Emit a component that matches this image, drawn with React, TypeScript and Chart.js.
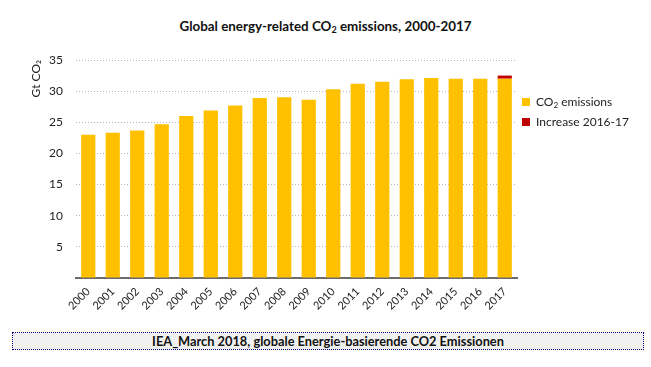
import React, { useEffect, useRef } from "react";
import { Chart, registerables } from "chart.js";

Chart.register(...registerables);

const years = ["2000","2001","2002","2003","2004","2005","2006","2007","2008","2009","2010","2011","2012","2013","2014","2015","2016","2017"];
const emissions = [23.0, 23.3, 23.7, 24.7, 26.0, 26.9, 27.7, 28.9, 29.0, 28.6, 30.3, 31.2, 31.5, 31.9, 32.1, 32.0, 32.0, 32.0];
const increase = [null, null, null, null, null, null, null, null, null, null, null, null, null, null, null, null, null, 0.5];
const yTicks = [5, 10, 15, 20, 25, 30, 35];

const FONT = "Lato, 'Open Sans', sans-serif";

export default function App() {
  const ref = useRef<HTMLCanvasElement>(null);
  useEffect(() => {
    if (!ref.current) return;
    const chart = new Chart(ref.current, {
      type: "bar",
      data: {
        labels: years,
        datasets: [
          { label: "CO₂ emissions", data: emissions, backgroundColor: "#FFC000", barPercentage: 0.58, categoryPercentage: 1 },
          { label: "Increase 2016-17", data: increase as any, backgroundColor: "#C00000", barPercentage: 0.58, categoryPercentage: 1 },
        ],
      },
      options: {
        animation: false,
        responsive: false,
        maintainAspectRatio: false,
        layout: { padding: { left: 25, top: 60, right: 134, bottom: 0 } },
        plugins: { legend: { display: false }, tooltip: { enabled: false }, title: { display: false } },
        scales: {
          x: {
            stacked: true,
            grid: { display: false, drawTicks: false },
            border: { display: true, color: "#6b6b6b", width: 2 },
            ticks: { color: "#222", font: { family: FONT, size: 11 }, maxRotation: 45, minRotation: 45, padding: 7, autoSkip: false },
            afterFit: (s: any) => { s.height = 42; },
          },
          y: {
            stacked: true,
            min: 0,
            max: 35,
            afterBuildTicks: (s: any) => { s.ticks = [0, ...yTicks].map((v) => ({ value: v })); },
            grid: {
              drawTicks: false,
              color: (ctx: any) => (ctx.tick && ctx.tick.value === 0 ? "rgba(0,0,0,0)" : "#b4b4b4"),
              lineWidth: 1,
            },
            border: { display: false, dash: [1, 2] },
            ticks: {
              color: "#222",
              font: { family: FONT, size: 12 },
              padding: 13,
              callback: (v: any) => (v === 0 ? "" : String(v)),
            },
            title: { display: true, text: "Gt CO₂", align: "end", color: "#222", font: { family: FONT, size: 12 } },
            afterFit: (s: any) => { s.width = 51; },
          },
        },
      },
    });
    return () => chart.destroy();
  }, []);

  return (
    <div style={{ position: "relative", width: 651, height: 367, background: "#fff", fontFamily: FONT, color: "#111" }}>
      <style>{`body{margin:0}`}</style>
      <div style={{ position: "absolute", left: 0, width: 651, top: 17, textAlign: "center", fontWeight: 700, fontSize: 13.4, lineHeight: "18px" }}>
        Global energy-related CO<sub style={{ fontSize: 9, verticalAlign: "-2px", lineHeight: 0 }}>2</sub> emissions, 2000-2017
      </div>
      <canvas ref={ref} width={651} height={320} style={{ position: "absolute", left: 0, top: 0, width: 651, height: 320 }} />
      <div style={{ position: "absolute", left: 522, top: 98, width: 8, height: 8, background: "#FFC000" }} />
      <div style={{ position: "absolute", left: 536, top: 94, fontSize: 12, lineHeight: "16px", color: "#222" }}>
        CO<sub style={{ fontSize: 8, verticalAlign: "-2px", lineHeight: 0 }}>2</sub> emissions
      </div>
      <div style={{ position: "absolute", left: 522, top: 118, width: 8, height: 8, background: "#C00000" }} />
      <div style={{ position: "absolute", left: 536, top: 114, fontSize: 12, lineHeight: "16px", color: "#222" }}>
        Increase 2016-17
      </div>
      <div style={{ position: "absolute", left: 12, top: 332, width: 630, height: 16, background: "#f0f0f0", border: "1px dotted #000080", textAlign: "center", fontWeight: 700, fontSize: 12.8, lineHeight: "16px", color: "#111" }}>
        IEA_March 2018, globale Energie-basierende CO2 Emissionen
      </div>
    </div>
  );
}
